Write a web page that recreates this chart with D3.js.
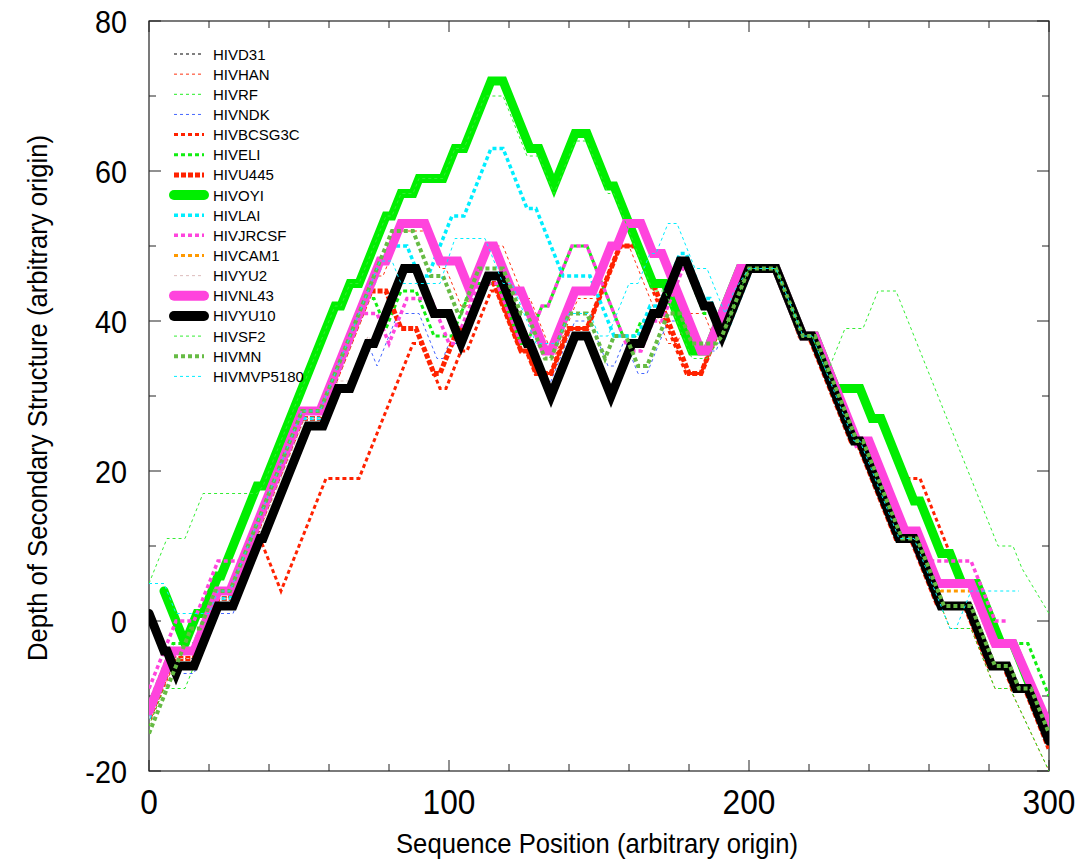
<!DOCTYPE html>
<html>
<head>
<meta charset="utf-8">
<script src="https://cdn.jsdelivr.net/npm/d3@7"></script>
<style>
  html, body { margin: 0; padding: 0; background: #fff; }
  svg { display: block; }
  text { font-family: "Liberation Sans", Arial, Helvetica, sans-serif; fill: #000; }
</style>
</head>
<body>
<svg id="chart" width="1080" height="860"></svg>
<script>
// ---------------- DATA ----------------
const seriesNames = ["HIVD31","HIVHAN","HIVRF","HIVNDK","HIVBCSG3C","HIVELI","HIVU445","HIVOYI",
  "HIVLAI","HIVJRCSF","HIVCAM1","HIVYU2","HIVNL43","HIVYU10","HIVSF2","HIVMN","HIVMVP5180"];

const xTicks = [0, 100, 200, 300];
const yTicks = [-20, 0, 20, 40, 60, 80];

const tailMain = [[191,38],[200,47],[209,47],[218,38],[221,38],[235,24],[237,24],[250,11],[255,11],
  [264,2],[273,2],[281,-6],[286,-6],[289,-9],[293,-9],[300,-16]];
const tailLow = [[191,38],[200,47],[209,47],[218,38],[221,38],[235,24],[237,24],[250,11],[255,11],
  [264,2],[267,-1],[274,-1],[282,-9],[287,-9],[300,-20]];
// middle W shape followed by the black group
const midBlack = [[75,37],[85,47],[89,47],[95,41],[100,41],[104,37],[113,46],[117,46],[126,37],[127,37],
  [134,30],[142,38],[146,38],[154,30],[161,37],[164,37],[168,41],[170,41],[177,48],[179,48],[185,42],[187,42]];

const hivYU10 = [[0,1],[5,-4],[6,-4],[9,-7],[10,-6],[15,-6],[23,2],[28,2],[37,11],[38,11],[53,26],[58,26],
  [63,31],[67,31],[73,37], ...midBlack, ...tailMain];
const hivD31 = [[0,-12],[7,-5],[15,-5],[23,3],[27,3],[37,12],[38,12],[53,26],[58,26],[63,31],[67,31],[73,37],
  ...midBlack, ...tailMain];
const hivYU2 = [[0,-13],[8,-5],[15,-5],[23,3],[28,3],[37,12],[52,27],[58,27],[63,32],[67,32],[73,38],
  ...midBlack, ...tailMain];
const hivRF = [[0,-14],[5,-9],[12,-9],[15,-6],[23,2],[28,2],[37,11],[38,11],[53,26],[58,26],[63,31],[67,31],[73,37],
  ...midBlack, ...tailLow];
const hivHAN = [[0,-14],[8,-6],[15,-6],[23,2],[28,2],[52,26],[56,26],[76,46],[78,46],[84,52],[92,52],[97,47],
  [99,47],[104,42],[106,42],[114,50],[118,50],[125,43],[127,43],[135,35],[143,43],[148,43],[155,50],[160,50],
  [173,37],[176,37],[180,41],[185,41],[188,38], ...tailLow];
const hivNDK = [[0,-12],[5,-7],[15,-7],[23,1],[28,1],[38,11],[53,26],[58,26],[63,31],[67,31],[72,36],[74,36],
  [76,34],[78,36],[83,41],[90,41],[96,35],[98,35],[100,37],[104,37],[113,46],[117,46],[126,37],[127,37],
  [133,31],[142,40],[147,40],[153,34],[155,34],[158,37],[159,37],[163,33],[166,33],[173,40],[177,40],
  [181,36],[189,36], ...tailMain];
const hivBCSG3C = [[0,-13],[7,-6],[15,-6],[23,2],[28,2],[37,11],[44,4],[59,19],[70,19],[88,37],[91,37],
  [97,31],[99,31],[104,36],[106,36],[114,44],[116,44],[124,36],[126,36],[129,33],[134,33],[140,39],[146,39],
  [157,50],[162,50],[179,33],[184,33],[189,38],[200,47],[209,47],[218,38],[222,38],[229,31],[237,31],
  [241,27],[244,27],[252,19],[257,19],[271,5],[276,5],[284,-3],[288,-3],[300,-15]];
const hivELI = [[0,-11],[8,-3],[15,-3],[22,4],[27,4],[51,28],[57,28],[72,43],[75,43],[79,39],[84,44],[89,44],
  [95,38],[101,38],[108,45],[116,45],[124,37],[126,37],[131,42],[133,42],[141,50],[146,50],[158,38],[162,38],
  [164,40],[168,40],[175,47],[179,47],[185,41],[187,41],[191,38],[200,47],[209,47],[218,38],[221,38],
  [235,24],[237,24],[250,11],[255,11],[261,5],[274,5],[282,-3],[293,-3],[300,-10]];
const hivU445 = [[0,-13],[8,-5],[15,-5],[23,3],[27,3],[51,27],[57,27],[74,44],[79,44],[84,39],[89,39],
  [95,33],[97,33],[103,39],[106,39],[112,45],[115,45],[124,36],[126,36],[129,33],[134,33],[140,39],[146,39],
  [157,50],[163,50],[180,33],[184,33],[189,38],[199,47],[209,47],[217,38],[220,38],[234,24],[236,24],
  [249,11],[254,11],[263,2],[272,2],[280,-6],[285,-6],[288,-9],[292,-9],[300,-17]];
const hivOYI = [[5,4],[12,-3],[16,1],[18,1],[23,6],[24,6],[36,18],[38,18],[62,42],[64,42],[67,45],[70,45],
  [79,54],[81,54],[84,57],[88,57],[90,59],[98,59],[102,63],[105,63],[114,72],[118,72],[127,63],[130,63],
  [135,58],[142,65],[146,65],[153,58],[155,58],[168,45],[172,45],[181,36],[186,36],[197,47],[209,47],
  [218,38],[222,38],[229,31],[237,31],[241,27],[244,27],[255,16],[257,16],[264,9],[267,9],[271,5],[276,5],
  [284,-3],[288,-3],[300,-15]];
const hivNL43 = [[0,-12],[8,-4],[15,-4],[23,4],[27,4],[51,28],[57,28],[77,48],[79,48],[84,53],[92,53],
  [97,48],[103,48],[107,44],[113,50],[115,50],[121,44],[124,44],[132,36],[134,36],[142,44],[148,44],[154,50],
  [156,50],[159,53],[164,53],[168,49],[171,49],[184,36],[186,36],[197,47],[209,47],[218,38],[222,38],
  [236,24],[240,24],[252,12],[256,12],[263,5],[274,5],[282,-3],[288,-3],[300,-14]];
const hivCAM1 = [[0,-12],[8,-4],[15,-4],[23,4],[27,4],[51,28],[57,28],[77,48],[79,48],[84,53],[92,53],
  [97,48],[103,48],[107,44],[113,50],[115,50],[121,44],[124,44],[132,36],[134,36],[142,44],[148,44],[154,50],
  [156,50],[159,53],[164,53],[168,49],[171,49],[184,36],[186,36],[197,47],[209,47],[218,38],[222,38],
  [236,24],[240,24],[252,12],[256,12],[264,4],[274,4],[281,-3],[288,-3],[300,-14]];
const hivLAI = [[0,-13],[9,-4],[15,-4],[22,3],[27,3],[51,27],[57,27],[80,50],[86,50],[90,46],[93,46],
  [101,54],[105,54],[114,63],[118,63],[126,55],[129,55],[135,49],[138,46],[147,46],[155,38],[163,38],
  [167,42],[170,42],[177,49],[179,49],[185,43],[187,43],[192,38],[201,47],[209,47],[218,38],[222,38],
  [236,24],[240,24],[252,12],[256,12],[263,5],[274,5],[282,-3],[288,-3],[300,-14]];
const hivJRCSF = [[0,-9],[9,0],[15,0],[23,8],[31,8],[51,28],[57,28],[70,41],[76,41],[80,37],[86,43],[94,43],
  [100,37],[102,37],[110,45],[116,45],[124,37],[126,37],[131,42],[133,42],[141,50],[146,50],[160,36],
  [164,36],[168,40],[171,40],[178,47],[180,47],[185,42],[187,42],[191,38],[200,47],[209,47],[218,38],
  [221,38],[236,23],[238,23],[250,11],[254,11],[257,8],[274,8],[282,0],[286,0]];
const hivSF2 = [[0,5],[6,11],[12,11],[18,17],[36,17],[38,18],[62,42],[64,42],[67,45],[70,45],[79,54],[81,54],
  [84,57],[88,57],[90,59],[98,59],[102,63],[105,63],[112,70],[118,70],[126,62],[130,62],[135,57],[142,64],
  [146,64],[153,57],[155,57],[168,44],[172,44],[181,35],[186,35],[191,38],[200,47],[209,47],[218,38],
  [221,38],[226,33],[232,39],[238,39],[243,44],[249,44],[283,10],[288,10],[291,7],[300,1]];
const hivMN = [[0,-15],[14,-1],[17,-1],[22,4],[27,4],[51,28],[57,28],[81,52],[88,52],[94,46],[98,46],
  [103,41],[104,41],[110,47],[118,47],[124,41],[126,41],[132,35],[134,35],[140,41],[146,41],[152,35],
  [155,38],[159,38],[163,34],[166,34],[173,41],[177,41],[181,37],[189,37],[191,38],[200,47],[209,47],
  [218,38],[222,38],[236,24],[238,24],[251,11],[256,11],[265,2],[274,2],[282,-6],[287,-6],[290,-9],
  [294,-9],[300,-15]];
const hivMVP5180 = [[0,5],[5,5],[9,1],[16,1],[20,1],[23,4],[27,4],[51,28],[57,28],[77,48],[81,48],[84,45],
  [97,45],[102,51],[112,51],[118,45],[121,45],[129,37],[136,37],[140,41],[147,41],[150,38],[153,38],
  [160,45],[163,45],[167,49],[169,49],[173,53],[176,53],[182,47],[186,47],[192,41],[195,44],[200,47],
  [209,47],[218,38],[221,38],[235,24],[237,24],[250,11],[255,11],[264,2],[267,-1],[269,-1],[274,4],[290,4]];

const seriesValues = [hivD31, hivHAN, hivRF, hivNDK, hivBCSG3C, hivELI, hivU445, hivOYI,
  hivLAI, hivJRCSF, hivCAM1, hivYU2, hivNL43, hivYU10, hivSF2, hivMN, hivMVP5180];

// ---------------- STYLE ----------------
const seriesColors = ["#000000","#ff3311","#22ee22","#4466ff","#ff2200","#11ee11","#ff2200","#00ee00",
  "#00eeff","#ff44dd","#ff9900","#ddbbbb","#ff44dd","#000000","#33ee33","#66bb44","#00eeff"];
const seriesWidths = [1,1,1,1,3,3,5,9,3.5,3.5,3,1,9,9,1,4,1];
const seriesDashes = ["3,3","3,3","3,3","3,3","4,3","4,3","5,2",null,"4,3","4,3","4,3","3,3",null,null,"3,3","4,3","3,3"];

const plot = { left: 149, right: 1049, top: 21, bottom: 771 };

const svg = d3.select("#chart");
const x = d3.scaleLinear().domain([0, 300]).range([plot.left, plot.right]);
const y = d3.scaleLinear().domain([-20, 80]).range([plot.bottom, plot.top]);

svg.append("defs").append("clipPath").attr("id", "clip")
  .append("rect").attr("x", plot.left).attr("y", plot.top)
  .attr("width", plot.right - plot.left).attr("height", plot.bottom - plot.top);

// frame
svg.append("rect").attr("x", plot.left).attr("y", plot.top)
  .attr("width", plot.right - plot.left).attr("height", plot.bottom - plot.top)
  .attr("fill", "none").attr("stroke", "#222").attr("stroke-width", 1.2);

// ticks (inward, all four sides)
const xMinor = d3.range(0, 301, 20);
const yMinor = d3.range(-20, 81, 10);
const tickG = svg.append("g").attr("stroke", "#222").attr("stroke-width", 1);
xMinor.forEach(v => {
  const len = (v % 100 === 0) ? 11 : 7;
  tickG.append("line").attr("x1", x(v)).attr("x2", x(v)).attr("y1", plot.bottom).attr("y2", plot.bottom - len);
  tickG.append("line").attr("x1", x(v)).attr("x2", x(v)).attr("y1", plot.top).attr("y2", plot.top + len);
});
yMinor.forEach(v => {
  const len = (v % 20 === 0) ? 12 : 7;
  tickG.append("line").attr("x1", plot.left).attr("x2", plot.left + len).attr("y1", y(v)).attr("y2", y(v));
  tickG.append("line").attr("x1", plot.right).attr("x2", plot.right - len).attr("y1", y(v)).attr("y2", y(v));
});

// tick labels (slightly condensed, tall glyphs as in the original)
svg.append("g").selectAll("text").data(xTicks).join("text")
  .attr("transform", d => `translate(${x(d)},814) scale(0.88,1)`)
  .attr("text-anchor", "middle")
  .attr("font-size", 36).text(d => d);
svg.append("g").selectAll("text").data(yTicks).join("text")
  .attr("transform", d => `translate(127,${y(d) + 11.5}) scale(0.9,1)`)
  .attr("text-anchor", "end")
  .attr("font-size", 32).text(d => d);

// axis titles
svg.append("text").attr("transform", "translate(597,853) scale(0.95,1)").attr("text-anchor", "middle")
  .attr("font-size", 27).text("Sequence Position (arbitrary origin)");
svg.append("text").attr("transform", "translate(47,398) rotate(-90) scale(0.95,1)")
  .attr("text-anchor", "middle").attr("font-size", 27)
  .text("Depth of Secondary Structure (arbitrary origin)");

// series
const line = d3.line().x(d => x(d[0])).y(d => y(d[1]));
const lineG = svg.append("g").attr("clip-path", "url(#clip)");
seriesValues.forEach((vals, i) => {
  lineG.append("path").datum(vals)
    .attr("d", line)
    .attr("fill", "none")
    .attr("stroke", seriesColors[i])
    .attr("stroke-width", seriesWidths[i])
    .attr("stroke-dasharray", seriesDashes[i])
    .attr("stroke-linejoin", "miter")
    .attr("stroke-miterlimit", 4)
    .attr("stroke-linecap", seriesDashes[i] ? "butt" : "round");
});

// legend
const legG = svg.append("g");
seriesNames.forEach((name, i) => {
  const ly = 54 + i * 20.15;
  legG.append("line").attr("x1", 174).attr("x2", 204).attr("y1", ly).attr("y2", ly)
    .attr("stroke", seriesColors[i]).attr("stroke-width", seriesWidths[i] + (seriesWidths[i] > 5 ? 1 : 0))
    .attr("stroke-dasharray", seriesDashes[i])
    .attr("stroke-linecap", seriesDashes[i] ? "butt" : "round");
  legG.append("text").attr("x", 213).attr("y", ly + 5.5).attr("font-size", 15).text(name);
});
</script>
</body>
</html>
